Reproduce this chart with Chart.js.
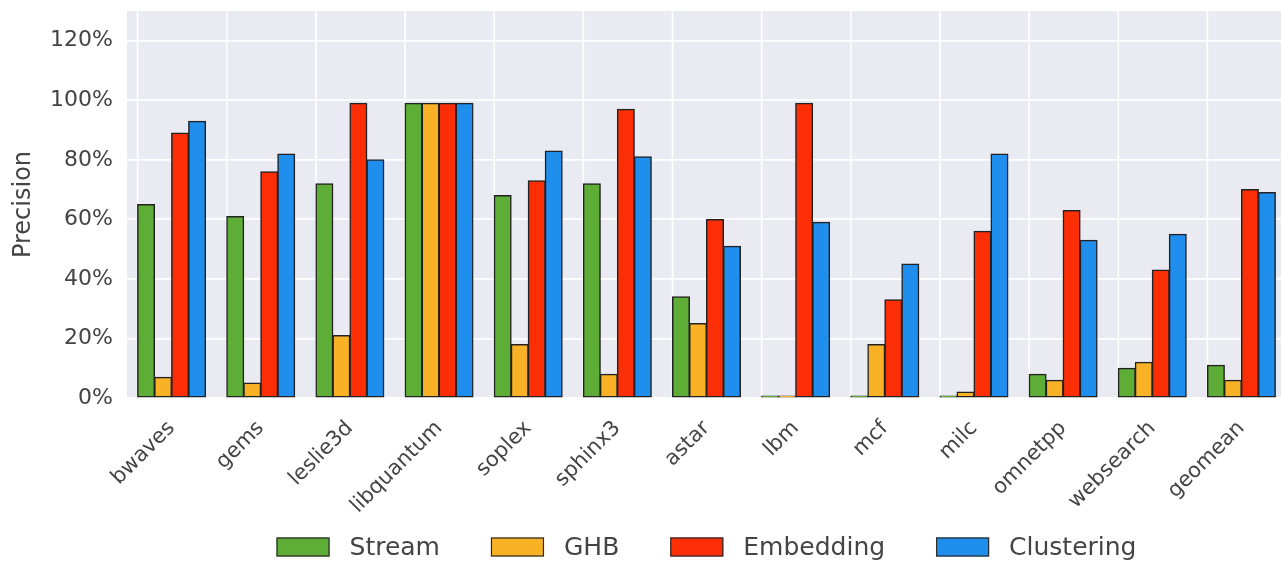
<!DOCTYPE html>
<html>
<head>
<meta charset="utf-8">
<script src="https://cdn.jsdelivr.net/npm/chart.js@4.4.1/dist/chart.umd.min.js"></script>
<style>
  html, body { margin: 0; padding: 0; background: #ffffff; overflow: hidden; }
  #wrap { width: 1288px; height: 563px; position: relative; }
</style>
</head>
<body>
<div id="wrap"><canvas id="chart"></canvas></div>
<script>
// Benchmarks and prefetcher precision (%)
const categories = ['bwaves', 'gems', 'leslie3d', 'libquantum', 'soplex', 'sphinx3', 'astar', 'lbm', 'mcf', 'milc', 'omnetpp', 'websearch', 'geomean'];
const stream     = [65, 61, 72, 99, 68, 72, 34, 0, 0, 0, 8, 10, 11];
const ghb        = [7, 5, 21, 99, 18, 8, 25, 0, 18, 2, 6, 12, 6];
const embedding  = [89, 76, 99, 99, 73, 97, 60, 99, 33, 56, 63, 43, 70];
const clustering = [93, 82, 80, 99, 83, 81, 51, 59, 45, 82, 53, 55, 69];
const seriesNames  = ['Stream', 'GHB', 'Embedding', 'Clustering'];
const seriesColors = ['#5DAD36', '#F9B225', '#FB2E06', '#1F8EEC'];
const yTicks = [0, 20, 40, 60, 80, 100, 120];

const GROUP_FRACTION = 0.763;
const TEXT_COLOR = '#444444';
const FONT = 'DejaVu Sans';

// grey plotting panel behind the grid
const plotBg = {
  id: 'plotBg',
  beforeDraw(chart) {
    const { ctx, chartArea: a } = chart;
    ctx.save();
    ctx.fillStyle = '#EAEAF2';
    ctx.fillRect(a.left, a.top, a.width, a.height);
    ctx.restore();
  }
};

// vertical grid lines at the left edge of each bar group
const groupGrid = {
  id: 'groupGrid',
  beforeDatasetsDraw(chart) {
    const x = chart.scales.x, a = chart.chartArea, ctx = chart.ctx;
    const half = (x.width / categories.length) * GROUP_FRACTION / 2;
    ctx.save();
    ctx.strokeStyle = '#ffffff';
    ctx.lineWidth = 1.6;
    categories.forEach((c, i) => {
      const px = x.getPixelForValue(i) - half;
      ctx.beginPath();
      ctx.moveTo(px, a.top);
      ctx.lineTo(px, a.bottom);
      ctx.stroke();
    });
    ctx.restore();
  }
};

// legend row below the tick labels, centred on the plotting area
const bottomLegend = {
  id: 'bottomLegend',
  afterDraw(chart) {
    const ctx = chart.ctx, a = chart.chartArea;
    const boxW = 53, boxH = 19, gapText = 20, gapItem = 51, cy = 547;
    ctx.save();
    ctx.font = '25px "' + FONT + '"';
    const items = chart.data.datasets.map(d => ({
      label: d.label,
      color: d.backgroundColor,
      w: boxW + gapText + ctx.measureText(d.label).width
    }));
    const total = items.reduce((s, it) => s + it.w, 0) + gapItem * (items.length - 1);
    let x = (a.left + a.right) / 2 - total / 2;
    items.forEach(it => {
      ctx.fillStyle = it.color;
      ctx.fillRect(x, cy - boxH / 2, boxW, boxH);
      ctx.strokeStyle = '#2b2b2b';
      ctx.lineWidth = 1.2;
      ctx.strokeRect(x + 0.5, cy - boxH / 2 + 0.5, boxW - 1, boxH - 1);
      ctx.fillStyle = TEXT_COLOR;
      ctx.textAlign = 'left';
      ctx.textBaseline = 'middle';
      ctx.fillText(it.label, x + boxW + gapText, cy + 1);
      x += it.w + gapItem;
    });
    ctx.restore();
  }
};

const seriesData = [stream, ghb, embedding, clustering];
const datasets = seriesNames.map((name, i) => ({
  label: name,
  data: seriesData[i],
  backgroundColor: seriesColors[i],
  borderColor: '#222222',
  borderWidth: 1.5,
  borderSkipped: false,
  minBarLength: 2
}));

new Chart(document.getElementById('chart'), {
  type: 'bar',
  data: { labels: categories, datasets },
  plugins: [plotBg, groupGrid, bottomLegend],
  options: {
    responsive: true,
    maintainAspectRatio: false,
    animation: false,
    datasets: {
      bar: { barPercentage: 1, categoryPercentage: GROUP_FRACTION, inflateAmount: 0.5 }
    },
    layout: { padding: { top: 11, right: 2, left: 0, bottom: 0 } },
    plugins: {
      legend: { display: false },
      tooltip: { enabled: false }
    },
    scales: {
      x: {
        grid: { display: false },
        border: { display: false },
        ticks: {
          minRotation: 45,
          maxRotation: 45,
          autoSkip: false,
          padding: 10,
          color: TEXT_COLOR,
          font: { family: FONT, size: 21 }
        },
        afterFit(axis) { axis.height = 165; }
      },
      y: {
        min: 0,
        max: 130,
        afterBuildTicks(axis) { axis.ticks = yTicks.map(v => ({ value: v })); },
        grid: { color: '#ffffff', lineWidth: 1.8, drawTicks: false },
        border: { display: false },
        ticks: {
          padding: 14,
          color: TEXT_COLOR,
          font: { family: FONT, size: 22 },
          callback: v => v + '%'
        },
        title: {
          display: true,
          text: 'Precision',
          color: TEXT_COLOR,
          font: { family: FONT, size: 24 },
          padding: { top: 9, bottom: 0 }
        },
        afterFit(axis) {
          axis.width = 127;
          axis.paddingTop = 0;
          axis.paddingBottom = 0;
        }
      }
    }
  }
});
</script>
</body>
</html>
